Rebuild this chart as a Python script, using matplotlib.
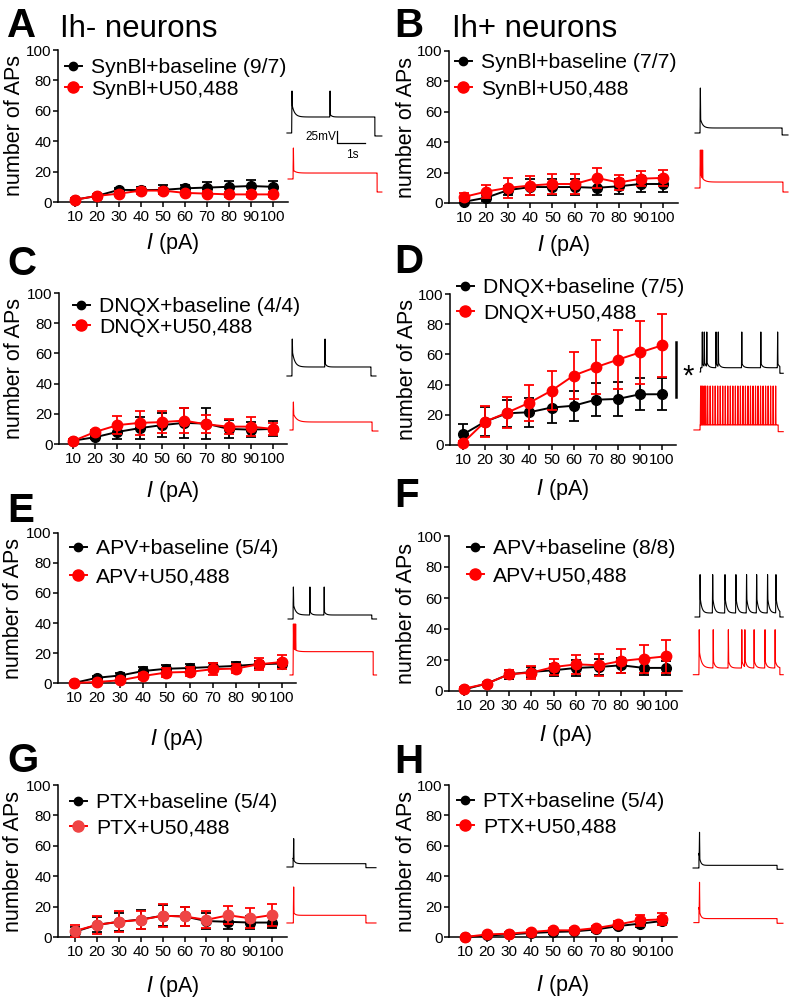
import numpy as np
import matplotlib
matplotlib.use("Agg")
import matplotlib.pyplot as plt
from matplotlib.lines import Line2D

plt.rcParams['font.family'] = ['Liberation Sans', 'DejaVu Sans']
plt.rcParams['path.simplify'] = False

# ---------------- data ----------------
currents = [10, 20, 30, 40, 50, 60, 70, 80, 90, 100]

A_base = [1.5, 4, 8, 7.8, 8, 9, 9.5, 10, 10.5, 10]
A_base_err = [1, 1, 1.5, 2, 3, 2.5, 3.5, 4, 4, 4]
A_u50 = [1.5, 4, 5.5, 7.5, 7.5, 6, 5.5, 5, 5, 5]
A_u50_err = [1, 1, 1.5, 2, 2, 1.5, 1.5, 1.5, 1.5, 1.5]

B_base = [0.8, 3.5, 8.5, 10.5, 10.5, 10.5, 10, 11, 12.5, 12.5]
B_base_err = [1, 2, 3, 5, 5, 5, 5, 5, 5, 5]
B_u50 = [4, 7.5, 10, 11.5, 12.5, 12.5, 16.5, 13.5, 16, 16.5]
B_u50_err = [2.5, 4.5, 6.5, 6.5, 6.5, 6.5, 6.5, 5, 5, 5]

C_base = [2.2, 4.5, 8, 10.5, 12.5, 14, 13.5, 10, 9.5, 10]
C_base_err = [1, 1.5, 4.5, 7.5, 8, 10, 10.5, 6, 5, 5]
C_u50 = [2, 8, 12.5, 14, 14.5, 15.5, 13, 11.5, 11.5, 10]
C_u50_err = [1, 1.5, 6, 8, 7.5, 8.5, 6, 5, 6.5, 4]

D_base = [7, 15.5, 21, 21.7, 24.8, 26, 30, 30.5, 33.6, 33.6]
D_base_err = [7, 9.5, 9, 9.5, 10, 10, 11, 11.5, 10.5, 10.5]
D_u50 = [1.5, 15.5, 21.5, 28, 36, 46, 51.5, 56.5, 61.3, 66]
D_u50_err = [1, 10, 10.5, 12, 13, 15.5, 18, 19.5, 21, 21]
D_sig_bar = [32, 68.5]

E_base = [0, 3.5, 5, 8, 9.5, 10, 10.7, 11.4, 12.5, 13]
E_base_err = [0.5, 1.5, 2, 2.5, 2.5, 2.5, 2.5, 2.5, 2.5, 2.5]
E_u50 = [0, 0.7, 1.8, 4.7, 7, 7.4, 9.2, 9.6, 12.5, 14]
E_u50_err = [0.5, 0.7, 1, 2, 3, 3, 4, 3, 4, 4.5]

F_base = [1, 4.7, 10.8, 12.3, 13.4, 14.9, 15.5, 16.6, 14.9, 14.9]
F_base_err = [1, 1, 3, 3.5, 4, 5, 5, 5, 4.5, 4.5]
F_u50 = [1.5, 4.7, 10.8, 11.9, 15.5, 17.2, 16.6, 19.4, 20.9, 22.4]
F_u50_err = [1, 1, 2.5, 4, 5, 6, 7, 7.5, 9, 10.5]

G_base = [3.5, 8, 10, 11.5, 14, 13.5, 10.5, 10, 9.5, 9.5]
G_base_err = [3, 5, 6, 6, 7, 6.5, 5.5, 4.5, 4.5, 3.5]
G_u50 = [4, 8, 10, 11.3, 14, 13.5, 11.3, 14.3, 12.3, 14.5]
G_u50_err = [4, 6, 7, 6, 7.5, 6, 5.5, 6, 6.5, 7]

H_base = [0, 1, 1.7, 2.6, 3.3, 3.7, 5, 7.2, 8.8, 10.5]
H_base_err = [0.5, 0.5, 0.8, 1, 1, 1, 1.5, 1.5, 2, 2.5]
H_u50 = [0, 1.7, 2.2, 3.3, 4.4, 4.4, 5.9, 8.3, 11, 11.6]
H_u50_err = [0.5, 0.8, 1, 1.2, 1.5, 1.5, 1.5, 2, 3.5, 4]

legend_base = ["SynBl+baseline (9/7)", "SynBl+baseline (7/7)", "DNQX+baseline (4/4)",
               "DNQX+baseline (7/5)", "APV+baseline (5/4)", "APV+baseline (8/8)",
               "PTX+baseline (5/4)", "PTX+baseline (5/4)"]
legend_u50 = ["SynBl+U50,488", "SynBl+U50,488", "DNQX+U50,488", "DNQX+U50,488",
              "APV+U50,488", "APV+U50,488", "PTX+U50,488", "PTX+U50,488"]
panel_letters = ["A", "B", "C", "D", "E", "F", "G", "H"]
column_titles = ["Ih- neurons", "Ih+ neurons"]

# example voltage traces (time in s, membrane potential in mV)
D_red_spikes = [0.38, 0.42, 0.46, 0.51, 0.56, 0.63, 0.72, 0.81, 0.90, 0.99, 1.08, 1.17,
                1.26, 1.35, 1.44, 1.53, 1.62, 1.71, 1.80, 1.89, 1.98, 2.07, 2.16, 2.25,
                2.34, 2.43, 2.52, 2.61, 2.70, 2.79, 2.88, 2.97, 3.06]
traces = [
    (dict(t0=0.07, t1=3.46, on=0.25, off=3.21, rest=-65, post=-71.5, plateau=-30.2, peak=26.3,
          sag=21.7, tau=0.1, adp=6, spikes=[0.25, 1.61]),
     dict(t0=0.11, t1=3.46, on=0.29, off=3.29, rest=-65, post=-93.3, plateau=-52, peak=2.4,
          sag=6.5, tau=0.1, adp=0, spikes=[0.30]), -100.0),
    (dict(t0=0.18, t1=3.5, on=0.36, off=3.29, rest=-65, post=-69.3, plateau=-54.1, peak=32.8,
          sag=23.9, tau=0.08, adp=0, spikes=[0.37]),
     dict(t0=0.18, t1=3.5, on=0.36, off=3.32, rest=-65, post=-73.7, plateau=-52, peak=17.6,
          sag=19.6, tau=0.1, adp=0, spikes=[0.37, 0.41, 0.45]), -119.6),
    (dict(t0=0.07, t1=3.25, on=0.25, off=3.07, rest=-65, post=-65, plateau=-45.4, peak=15.4,
          sag=30.4, tau=0.1, adp=8, spikes=[0.26, 1.43]),
     dict(t0=0.18, t1=3.32, on=0.29, off=3.11, rest=-65, post=-67.2, plateau=-47.6, peak=-4.1,
          sag=19.6, tau=0.12, adp=0, spikes=[0.30]), -117.4),
    (dict(t0=0.36, t1=3.33, on=0.38, off=3.21, rest=-65, post=-67.8, plateau=-55.7, peak=22,
          sag=0, tau=0.1, adp=10, spikes=[0.44, 0.51, 0.60, 0.93, 1.01, 1.85, 2.53, 3.13]),
     dict(t0=0.14, t1=3.33, on=0.36, off=3.15, rest=-65, post=-68.7, plateau=-54.1, peak=30.6,
          sag=0, tau=0.1, adp=0, spikes=D_red_spikes), -126.0),
    (dict(t0=0.11, t1=3.27, on=0.29, off=3.10, rest=-65, post=-65, plateau=-56.3, peak=4.6,
          sag=17.3, tau=0.1, adp=8, spikes=[0.30, 0.89, 1.40]),
     dict(t0=0.18, t1=3.27, on=0.30, off=3.15, rest=-65, post=-65, plateau=-14.3, peak=45.9,
          sag=8, tau=0.1, adp=0, spikes=[0.30, 0.34, 0.38]), -121.7),
    (dict(t0=0.18, t1=3.33, on=0.36, off=3.21, rest=-65, post=-65, plateau=-56.3, peak=27.1,
          sag=0, tau=0.1, adp=36, spikes=[0.36, 0.81, 1.25, 1.64, 2.02, 2.38, 2.77, 3.07]),
     dict(t0=0.12, t1=3.33, on=0.33, off=3.21, rest=-65, post=-65, plateau=-50.5, peak=32.8,
          sag=22, tau=0.1, adp=17, spikes=[0.33, 0.83, 1.37, 1.85, 1.96, 2.29, 2.68, 3.04]), -125.4),
    (dict(t0=0.07, t1=3.25, on=0.29, off=2.89, rest=-65, post=-66.5, plateau=-57.8, peak=-3.4,
          sag=12, tau=0.06, adp=0, spikes=[0.31]),
     dict(t0=0.07, t1=3.25, on=0.30, off=2.89, rest=-65, post=-65, plateau=-48.3, peak=13.3,
          sag=7, tau=0.06, adp=0, spikes=[0.31]), -121.7),
    (dict(t0=0.11, t1=3.32, on=0.32, off=3.11, rest=-65, post=-67.8, plateau=-59.2, peak=12.6,
          sag=26, tau=0.05, adp=0, spikes=[0.34]),
     dict(t0=0.14, t1=3.32, on=0.32, off=3.11, rest=-65, post=-66.5, plateau=-56.3, peak=22.6,
          sag=24, tau=0.05, adp=0, spikes=[0.34]), -118.7),
]
scale_bar_mV = 25
scale_bar_s = 1

base_means = [A_base, B_base, C_base, D_base, E_base, F_base, G_base, H_base]
base_errs = [A_base_err, B_base_err, C_base_err, D_base_err, E_base_err, F_base_err, G_base_err, H_base_err]
u50_means = [A_u50, B_u50, C_u50, D_u50, E_u50, F_u50, G_u50, H_u50]
u50_errs = [A_u50_err, B_u50_err, C_u50_err, D_u50_err, E_u50_err, F_u50_err, G_u50_err, H_u50_err]

# ---------------- layout (pixels) ----------------
W, H = 790, 997
fig = plt.figure(figsize=(W / 100, H / 100), dpi=100)


def px_axes(l, t, r, b):
    return fig.add_axes([l / W, 1 - b / H, (r - l) / W, (b - t) / H])


boxes = [(58, 50, 288, 202), (449, 51, 678, 203), (59, 293, 287, 444), (450, 294, 676, 445),
         (58, 533, 296, 683), (449, 536, 682, 691), (58, 785, 287, 937), (449, 785, 677, 937)]
xlims = [(2.3, 106.8), (3.2, 106.8), (3.7, 106.3), (4.1, 106.3),
         (3.1, 106.0), (3.3, 107.0), (2.2, 106.8), (2.7, 106.8)]
# legend: handle-left x, first-row centre y, row spacing
leg_pos = [(65, 68, 22), (455, 63, 27), (73, 307, 21), (457, 288, 26),
           (70, 549, 29), (467, 549, 28), (70, 803, 26), (457, 802, 26)]
xlabel_y = [243, 245, 491, 489, 739, 735, 986, 985]
ylabel_x = [15, 407, 15, 407, 14, 407, 14, 407]
letter_pos = [(7, 37), (394, 37), (7, 275), (394, 273), (7, 522), (394, 507), (7, 772), (394, 773)]
trace_left = [285, 690, 285, 690, 285, 690, 285, 690]
trace_rest_y = [133, 133, 376, 372, 619, 617, 867, 868]

RED = '#ff0000'
FS_TICK = 11
FS_LAB = 15.5
FS_LEG = 15.2
px_per_s = 28.0
px_per_mV = 0.46


def make_trace(p, dt=0.001):
    t = np.arange(p['t0'], p['t1'], dt)
    v = np.full(t.shape, float(p['rest']))
    stim = (t >= p['on']) & (t <= p['off'])
    v[t > p['off']] = p['post']
    since_on = np.clip(t - p['on'], 0, None)
    v[stim] = p['plateau'] + p['sag'] * np.exp(-since_on[stim] / p['tau'])
    for ts in p['spikes']:
        after = (t > ts) & stim
        v[after] += p['adp'] * np.exp(-(t[after] - ts) / 0.06)
    for ts in p['spikes']:
        w = np.clip(1 - np.abs(t - ts) / 0.012, 0, 1)
        v = v + w * (p['peak'] - v)
    return t, v


for i in range(8):
    l, t, r, b = boxes[i]
    ax = px_axes(l, t, r, b)
    red_mc = '#ef4545' if i == 6 else RED

    for means, errs, col, mc, ms, z in [(base_means[i], base_errs[i], 'black', 'black', 7, 3),
                                        (u50_means[i], u50_errs[i], RED, red_mc, 7.5, 4)]:
        cont = ax.errorbar(currents, means, yerr=errs, color=col, marker='o', ms=ms,
                           mfc=mc, mec=mc, lw=1.4, elinewidth=1.3, capsize=3.6, capthick=1.3,
                           clip_on=False, zorder=z)
        for art in cont.get_children():
            art.set_clip_on(False)

    ax.set_xlim(*xlims[i])
    ax.set_ylim(0, 100)
    ax.set_xticks(currents)
    ax.set_yticks([0, 20, 40, 60, 80, 100])
    for s in ['top', 'right']:
        ax.spines[s].set_visible(False)
    for s in ['left', 'bottom']:
        ax.spines[s].set_linewidth(1.1)
    ax.tick_params(direction='out', length=3.5, width=1.1, labelsize=FS_TICK, pad=1.2)
    ax.tick_params(axis='x', pad=2.3)
    ax.patch.set_alpha(0)

    ax.set_xlabel(r'$\it{I}$ (pA)', fontsize=FS_LAB)
    ax.xaxis.label.set_va('center')
    ax.xaxis.set_label_coords(0.5, (b - xlabel_y[i]) / (b - t))
    ax.set_ylabel('number of APs', fontsize=FS_LAB)
    ax.yaxis.label.set_va('center')
    ax.yaxis.set_label_coords((ylabel_x[i] - l) / (r - l), 0.5)

    hx, ry, sp = leg_pos[i]
    rowh = 19.5
    handles = [Line2D([], [], color='black', marker='o', ms=6, lw=1.4),
               Line2D([], [], color=RED, marker='o', ms=8, lw=1.4, mfc=red_mc, mec=red_mc)]
    ax.legend(handles, [legend_base[i], legend_u50[i]], loc='upper left',
              bbox_to_anchor=(hx / W, 1 - (ry - rowh / 2) / H), bbox_transform=fig.transFigure,
              frameon=False, borderpad=0, borderaxespad=0, handlelength=0.8,
              handletextpad=0.42, labelspacing=(sp - rowh) / (FS_LEG * 100 / 72),
              fontsize=FS_LEG)

    if i == 3:
        xr = xlims[i][1]
        ax.plot([xr, xr], D_sig_bar, color='black', lw=1.8, clip_on=False)
        ax.text(xr + 5.3, 40, '*', fontsize=21, ha='center', va='baseline', clip_on=False)

    # example traces
    x0 = trace_left[i]
    yT = trace_rest_y[i] - 60
    tax = px_axes(x0, yT, x0 + 100, yT + 130)
    tax.set_xlim(0, 100 / px_per_s)
    tax.set_ylim(-65 - 70 / px_per_mV, -65 + 60 / px_per_mV)
    tax.axis('off')
    blk, red, off = traces[i]
    tt, vv = make_trace(blk)
    tax.plot(tt, vv, color='black', lw=0.8)
    tt, vv = make_trace(red)
    tax.plot(tt, vv + off, color=RED, lw=0.8)
    if i == 0:
        sx, sy = 1.86, -86.7
        tax.plot([sx, sx, sx + scale_bar_s], [sy + scale_bar_mV, sy, sy], color='black', lw=0.9)
        tax.text(sx - 0.04, sy + 12.5, '25mV', fontsize=8.5, ha='right', va='center')
        tax.text(sx + 0.55, sy - 26, '1s', fontsize=8.5, ha='center', va='center')

for i, (lx, ly) in enumerate(letter_pos):
    fig.text(lx / W, 1 - ly / H, panel_letters[i], fontsize=29, fontweight='bold',
             ha='left', va='baseline')
fig.text(60 / W, 1 - 37 / H, column_titles[0], fontsize=22.5, ha='left', va='baseline')
fig.text(452 / W, 1 - 37 / H, column_titles[1], fontsize=22.5, ha='left', va='baseline')

fig.savefig('out.png', dpi=100)
